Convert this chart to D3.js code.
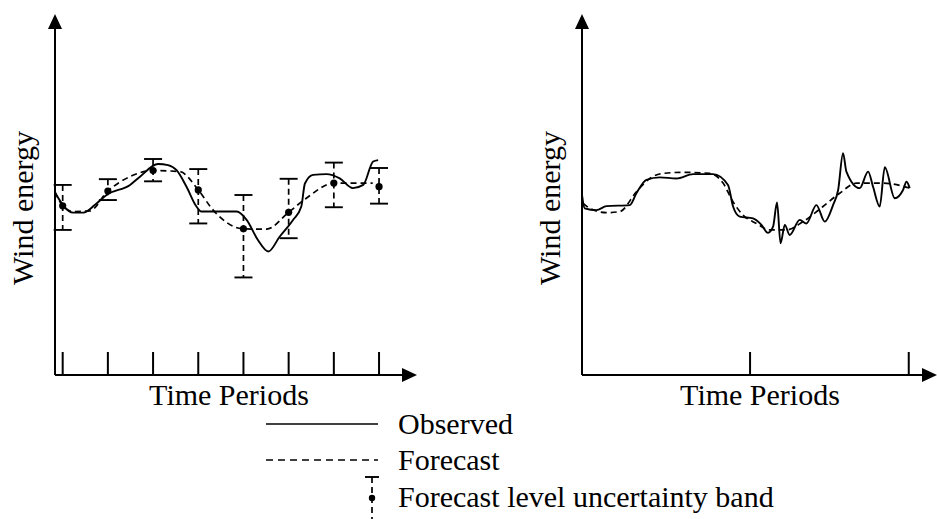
<!DOCTYPE html>
<html>
<head>
<meta charset="utf-8">
<script src="https://cdn.jsdelivr.net/npm/d3@7/dist/d3.min.js"></script>
<style>
  body { margin: 0; background: #fff; }
</style>
</head>
<body>
<div id="chart"></div>
<script>
// Left panel: period index (1..8) vs wind energy level
var leftTicks = [1, 2, 3, 4, 5, 6, 7, 8];
var leftObserved = [
    [0.83, 50.6], [1.23, 45.1], [1.46, 45.1], [1.71, 47.2], [1.97, 50.0], [2.49, 52.8],
    [2.71, 55.1], [3.11, 58.6], [3.33, 58.3], [3.52, 56.9], [3.74, 52.3], [3.96, 46.8],
    [4.07, 45.4], [4.85, 45.4], [5.07, 43.1], [5.32, 37.5], [5.55, 34.3], [5.80, 38.4],
    [6.10, 43.1], [6.28, 46.8], [6.36, 53.2], [6.54, 55.6], [6.84, 55.8], [7.13, 54.6],
    [7.42, 51.9], [7.65, 52.8], [7.87, 59.3], [7.98, 59.7]
];
var leftForecast = [
    [0.83, 50.9], [1.0, 47.0], [1.23, 45.4], [1.60, 45.6], [2.0, 51.1], [2.49, 55.1],
    [3.0, 56.8], [3.59, 56.5], [4.0, 51.4], [4.33, 45.8], [5.0, 40.6], [5.51, 40.5],
    [6.0, 45.2], [6.39, 49.1], [7.0, 53.3], [7.42, 53.3], [7.86, 53.3]
];
// uncertainty bands: [period, forecast level, low, high]
var leftBands = [
    [1, 47.0, 40.3, 52.8], [2, 51.1, 48.6, 54.4], [3, 56.8, 53.8, 60.0], [4, 51.4, 42.1, 57.2],
    [5, 40.6, 27.1, 50.0], [6, 45.2, 38.0, 54.5], [7, 53.3, 46.6, 59.0], [8, 52.3, 47.6, 57.5]
];

// Right panel: finer time resolution
var rightTicks = [1, 2];
var rightObserved = [
    [-0.059, 50.0], [-0.042, 46.3], [0.032, 45.8], [0.095, 46.9], [0.242, 47.2], [0.284, 50.5],
    [0.347, 54.2], [0.431, 54.9], [0.536, 54.6], [0.641, 55.8], [0.767, 55.8], [0.861, 52.8],
    [0.893, 46.8], [0.935, 44.0], [1.019, 43.5], [1.072, 41.7], [1.113, 39.5], [1.145, 41.2],
    [1.170, 47.9], [1.192, 36.6], [1.219, 41.7], [1.250, 38.9], [1.313, 43.1], [1.355, 42.1],
    [1.418, 47.2], [1.471, 42.6], [1.523, 47.2], [1.555, 51.4], [1.586, 61.6], [1.607, 56.5],
    [1.691, 51.9], [1.744, 56.5], [1.775, 52.3], [1.817, 46.8], [1.849, 57.7], [1.912, 49.1],
    [1.964, 51.4], [1.986, 53.7], [2.006, 51.9]
];
var rightForecast = [
    [-0.052, 47.7], [-0.010, 46.3], [0.095, 45.1], [0.179, 45.4], [0.284, 50.9], [0.368, 54.6],
    [0.452, 56.0], [0.578, 56.3], [0.746, 56.0], [0.830, 53.3], [0.893, 48.1], [0.956, 44.4],
    [1.040, 42.1], [1.124, 40.3], [1.229, 40.3], [1.334, 42.6], [1.460, 46.8], [1.565, 50.5],
    [1.670, 53.3], [1.838, 53.3], [2.006, 51.9]
];

var legendItems = ["Observed", "Forecast", "Forecast level uncertainty band"];

var width = 937, height = 519;
var svg = d3.select("#chart").append("svg")
    .attr("width", width)
    .attr("height", height);

var fontFamily = "'Liberation Serif', 'Times New Roman', serif";
var fontSize = 30;

// Draw one panel with arrowed axes
function drawPanel(opts) {
    var x = d3.scaleLinear().domain(opts.xDomain).range([opts.x0, opts.x1]);
    var y = d3.scaleLinear().domain([0, 100]).range([375, 15]);
    var g = svg.append("g");

    var line = d3.line()
        .x(function(d) { return x(d[0]); })
        .y(function(d) { return y(d[1]); })
        .curve(d3.curveMonotoneX);

    // forecast (dashed) then observed (solid)
    g.append("path")
        .datum(opts.forecast)
        .attr("d", line)
        .attr("fill", "none")
        .attr("stroke", "#000")
        .attr("stroke-width", 1.7)
        .attr("stroke-dasharray", "6,4");

    g.append("path")
        .datum(opts.observed)
        .attr("d", line)
        .attr("fill", "none")
        .attr("stroke", "#000")
        .attr("stroke-width", 1.9);

    if (opts.bands) {
        var band = g.selectAll(".band")
            .data(opts.bands)
            .enter().append("g")
            .attr("class", "band");
        band.append("line")
            .attr("x1", function(d) { return x(d[0]); })
            .attr("x2", function(d) { return x(d[0]); })
            .attr("y1", function(d) { return y(d[3]); })
            .attr("y2", function(d) { return y(d[2]); })
            .attr("stroke", "#000")
            .attr("stroke-width", 1.7)
            .attr("stroke-dasharray", "6,4");
        band.selectAll(".cap")
            .data(function(d) { return [[d[0], d[2]], [d[0], d[3]]]; })
            .enter().append("line")
            .attr("x1", function(d) { return x(d[0]) - 9; })
            .attr("x2", function(d) { return x(d[0]) + 9; })
            .attr("y1", function(d) { return y(d[1]); })
            .attr("y2", function(d) { return y(d[1]); })
            .attr("stroke", "#000")
            .attr("stroke-width", 1.9);
        band.append("circle")
            .attr("cx", function(d) { return x(d[0]); })
            .attr("cy", function(d) { return y(d[1]); })
            .attr("r", 3.6)
            .attr("fill", "#000");
    }

    // axes
    var ox = opts.x0, oy = y(0);
    g.append("line")
        .attr("x1", ox).attr("x2", ox)
        .attr("y1", oy).attr("y2", 28)
        .attr("stroke", "#000").attr("stroke-width", 2);
    g.append("path")
        .attr("d", "M" + (ox - 7) + ",29 L" + ox + ",14 L" + (ox + 7) + ",29 Z")
        .attr("fill", "#000");
    g.append("line")
        .attr("x1", ox).attr("x2", opts.x1 - 14)
        .attr("y1", oy).attr("y2", oy)
        .attr("stroke", "#000").attr("stroke-width", 2);
    g.append("path")
        .attr("d", "M" + (opts.x1 - 15) + "," + (oy - 7) + " L" + opts.x1 + "," + oy +
              " L" + (opts.x1 - 15) + "," + (oy + 7) + " Z")
        .attr("fill", "#000");

    g.selectAll(".tick")
        .data(opts.ticks)
        .enter().append("line")
        .attr("class", "tick")
        .attr("x1", function(d) { return x(d); })
        .attr("x2", function(d) { return x(d); })
        .attr("y1", oy - 23)
        .attr("y2", oy)
        .attr("stroke", "#000")
        .attr("stroke-width", 2);

    // labels
    g.append("text")
        .attr("x", opts.labelX)
        .attr("y", 405)
        .attr("text-anchor", "middle")
        .attr("font-family", fontFamily)
        .attr("font-size", fontSize)
        .text("Time Periods");

    g.append("text")
        .attr("transform", "translate(" + (opts.x0 - 22) + ",208) rotate(-90)")
        .attr("text-anchor", "middle")
        .attr("font-family", fontFamily)
        .attr("font-size", fontSize)
        .text("Wind energy");
}

drawPanel({
    x0: 55, x1: 417, xDomain: [0.83, 8.84], labelX: 229,
    ticks: leftTicks, observed: leftObserved, forecast: leftForecast, bands: leftBands
});
drawPanel({
    x0: 582, x1: 937, xDomain: [-0.059, 2.178], labelX: 760,
    ticks: rightTicks, observed: rightObserved, forecast: rightForecast, bands: null
});

// Legend
var legend = svg.append("g");
var rowY = [424, 460, 497];
legend.append("line")
    .attr("x1", 266).attr("x2", 378).attr("y1", rowY[0]).attr("y2", rowY[0])
    .attr("stroke", "#000").attr("stroke-width", 1.7);
legend.append("line")
    .attr("x1", 266).attr("x2", 378).attr("y1", rowY[1]).attr("y2", rowY[1])
    .attr("stroke", "#000").attr("stroke-width", 1.7)
    .attr("stroke-dasharray", "7,5");
legend.append("line")
    .attr("x1", 372).attr("x2", 372).attr("y1", 477).attr("y2", 519)
    .attr("stroke", "#000").attr("stroke-width", 1.7)
    .attr("stroke-dasharray", "6,4");
legend.append("line")
    .attr("x1", 365).attr("x2", 379).attr("y1", 477).attr("y2", 477)
    .attr("stroke", "#000").attr("stroke-width", 1.9);
legend.append("circle")
    .attr("cx", 372).attr("cy", 498).attr("r", 3.2).attr("fill", "#000");

legend.selectAll(".ltext")
    .data(legendItems)
    .enter().append("text")
    .attr("class", "ltext")
    .attr("x", 398)
    .attr("y", function(d, i) { return rowY[i] + 10; })
    .attr("font-family", fontFamily)
    .attr("font-size", fontSize)
    .text(function(d) { return d; });
</script>
</body>
</html>
